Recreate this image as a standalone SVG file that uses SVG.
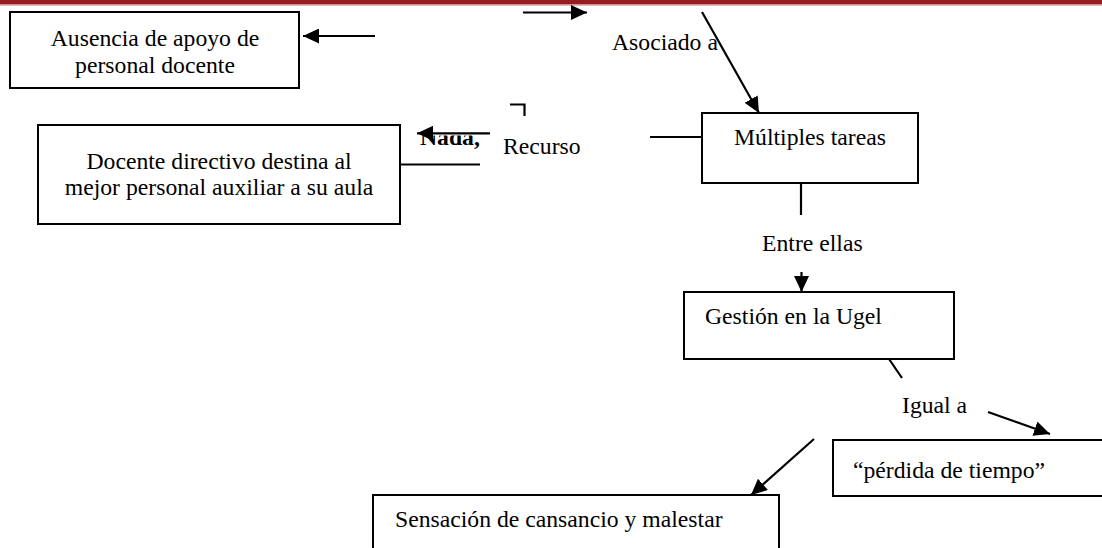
<svg xmlns="http://www.w3.org/2000/svg" width="1102" height="548" viewBox="0 0 1102 548">
<style>
.box{fill:#fff;stroke:#000;stroke-width:2}
.ln{fill:none;stroke:#000;stroke-width:2.2}
.t{font-family:"Liberation Serif","Times New Roman",serif;font-size:23.7px;fill:#000}
.c{text-anchor:middle}
</style>
<defs>
<marker id="ah" markerUnits="userSpaceOnUse" markerWidth="17" markerHeight="15" refX="16" refY="7.5" orient="auto">
<path d="M0,0 L16,7.5 L0,15 z" fill="#000"/>
</marker>
<clipPath id="clipNada"><rect x="412" y="135.5" width="80" height="20"/></clipPath>
</defs>
<rect width="1102" height="548" fill="#fff"/>
<rect x="0" y="0" width="1102" height="4.5" fill="#981b20"/>
<rect x="0" y="4.5" width="1102" height="1.2" fill="#d6979c"/>

<g id="n-ausencia">
<rect class="box" x="10" y="12" width="289" height="76"/>
<text class="t c" x="155" y="46">Ausencia de apoyo de</text>
<text class="t c" x="155" y="73">personal docente</text>
</g>

<g id="n-docente">
<rect class="box" x="38" y="125" width="362" height="99"/>
<text class="t c" x="219" y="169">Docente directivo destina al</text>
<text class="t c" x="219" y="195">mejor personal auxiliar a su aula</text>
</g>

<g id="n-multiples">
<rect class="box" x="702" y="113" width="216" height="70"/>
<text class="t c" x="810" y="145">Múltiples tareas</text>
</g>

<g id="n-gestion">
<rect class="box" x="684" y="292" width="270" height="67"/>
<text class="t" x="705" y="324">Gestión en la Ugel</text>
</g>

<g id="n-perdida">
<rect class="box" x="833" y="440" width="290" height="56"/>
<text class="t" x="853" y="478">“pérdida de tiempo”</text>
</g>

<g id="n-sensacion">
<rect class="box" x="373" y="495" width="406" height="70"/>
<text class="t" x="395" y="527">Sensación de cansancio y malestar</text>
</g>

<g id="labels">
<text class="t" x="612" y="50">Asociado a</text>
<text class="t" x="503" y="154">Recurso</text>
<text class="t" x="762" y="251">Entre ellas</text>
<text class="t" x="902" y="413">Igual a</text>
<text class="t" x="420" y="145" font-weight="bold" clip-path="url(#clipNada)">Nada,</text>
</g>

<g id="connectors">
<line class="ln" x1="523" y1="12.5" x2="587" y2="12.5" marker-end="url(#ah)"/>
<line class="ln" x1="375" y1="36" x2="303" y2="36" marker-end="url(#ah)"/>
<line class="ln" x1="702" y1="12" x2="759" y2="113" marker-end="url(#ah)"/>
<polyline class="ln" points="510,104.5 524.5,104.5 524.5,116"/>
<line class="ln" x1="490" y1="133.3" x2="417" y2="133.3" marker-end="url(#ah)"/>
<line class="ln" x1="400" y1="164.5" x2="480" y2="164.5"/>
<line class="ln" x1="650" y1="137" x2="702" y2="137"/>
<line class="ln" x1="801" y1="183" x2="801" y2="215"/>
<line class="ln" x1="801.5" y1="272" x2="801.5" y2="292" marker-end="url(#ah)"/>
<line class="ln" x1="889" y1="359" x2="902" y2="378"/>
<line class="ln" x1="988" y1="412" x2="1050" y2="434" marker-end="url(#ah)"/>
<line class="ln" x1="814" y1="439" x2="751" y2="495" marker-end="url(#ah)"/>
</g>
</svg>
